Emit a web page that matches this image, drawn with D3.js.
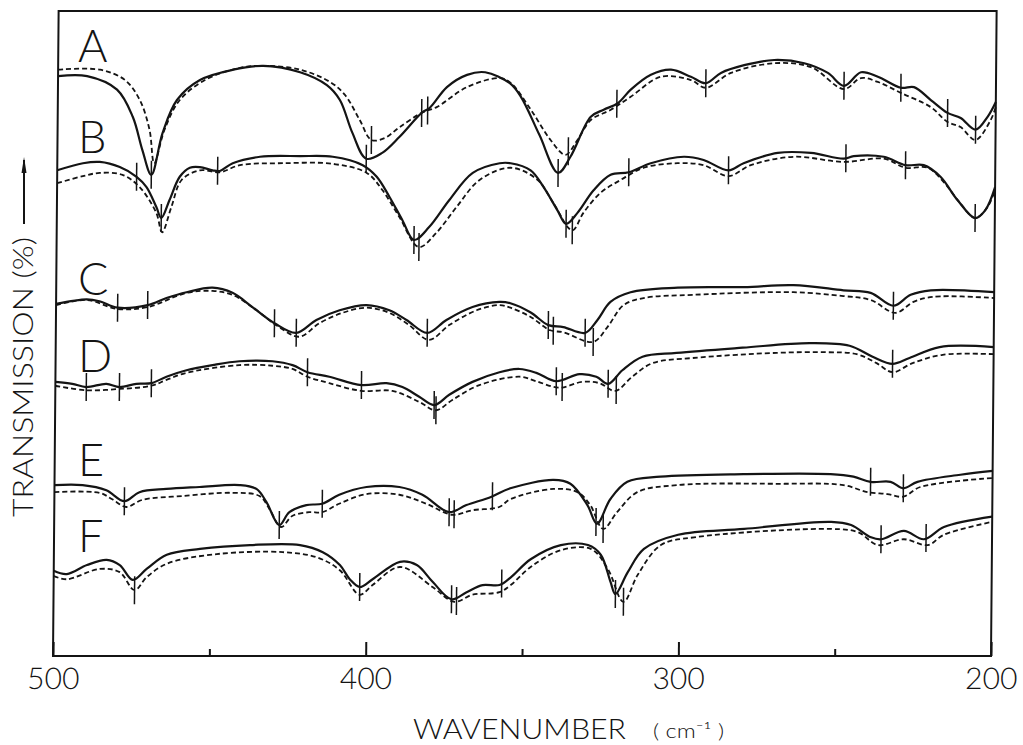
<!DOCTYPE html>
<html>
<head>
<meta charset="utf-8">
<script src="https://cdn.jsdelivr.net/npm/d3@7"></script>
<style>
  body { margin: 0; background: #fff; }
  svg { display: block; }
</style>
</head>
<body>
<div id="chart"></div>
<script>
// wavenumber (cm-1) and transmission (arbitrary %, stacked)
const wavenumberTicks = [500, 400, 300, 200];
const minorTicks = [450, 350, 250];
const spectrumNames = ["A", "B", "C", "D", "E", "F"];
const labelLevels = [92.1, 78.0, 56.0, 44.0, 27.9, 16.1];

const aSolid = [[500,89.9],[490.7,89.9],[481.1,87.8],[476.0,83.6],[472.8,78.4],[469.9,74.6],[466.4,81.1],[461.9,86.2],[454.6,89.3],[444.0,90.9],[434.4,91.5],[422.6,90.5],[414.0,88.5],[409.8,86.2],[405.7,81.1],[401.2,77.1],[396.1,78.0],[390.6,80.5],[383.6,84.2],[381.0,85.0],[375.6,88.2],[369.2,90.1],[363.4,90.5],[355.5,88.8],[351.9,86.7],[345.9,80.8],[339.8,74.9],[335.9,77.4],[329.5,83.6],[325.4,84.7],[320.9,85.7],[316.8,87.8],[310.4,90.1],[304.0,90.9],[297.6,89.8],[292.8,88.8],[288.0,90.4],[280.6,91.6],[271.0,92.4],[261.4,91.9],[253.8,90.4],[248.6,88.4],[243.2,90.5],[237.8,89.8],[230.4,88.1],[226.2,88.2],[220.8,86.2],[215.4,84.2],[211.2,83.4],[206.4,81.6],[202.6,83.6],[200,85.9]];
const aDashed = [[500,90.9],[486.6,90.9],[478.6,89.3],[473.8,86.2],[470.6,81.6],[469.0,76.4],[465.8,81.6],[461.0,86.2],[453.0,89.3],[441.8,91.2],[434.4,91.5],[422.6,90.9],[413.0,89.0],[408.2,87.0],[403.4,83.1],[399.6,80.0],[395.4,80.3],[390.6,82.0],[383.3,84.3],[378.8,85.1],[369.2,88.2],[358.6,89.6],[355.1,88.8],[348.7,84.7],[342.3,80.0],[337.5,77.7],[333.7,80.0],[329.5,83.1],[323.1,84.7],[316.8,86.7],[307.2,89.8],[297.6,89.3],[292.8,88.1],[284.8,90.4],[271.0,91.9],[259.2,91.3],[248.6,87.9],[243.2,89.6],[237.8,89.0],[230.4,87.3],[220.8,85.1],[215.4,82.8],[211.2,82.0],[206.4,80.0],[201.6,83.1],[200,85.1]];
const aTicks = [[469.9,"s"],[401.2,"s"],[399.6,"d"],[383.6,"s"],[381.7,"d"],[339.8,"s"],[336.6,"d"],[321.2,"s"],[292.8,"s"],[248.6,"s"],[230.4,"s"],[215.4,"s"],[206.4,"s"]];

const bSolid = [[500,75.3],[491.8,76.4],[486.4,76.6],[480.0,75.8],[474.6,74.3],[471.4,72.7],[468.2,69.6],[466.6,67.9],[464.0,70.7],[460.8,74.3],[457.6,75.7],[454.4,75.8],[450.3,75.3],[448.0,75.2],[443.9,76.4],[435.2,77.4],[422.4,77.5],[411.9,77.4],[402.3,76.1],[397.8,74.3],[393.7,71.2],[389.5,67.6],[385.7,64.5],[380.9,66.5],[374.5,70.7],[367.1,74.9],[358.5,76.4],[355.0,76.4],[348.6,75.3],[344.4,72.7],[339.9,69.1],[337.1,67.0],[333.5,68.7],[328.4,72.2],[323.0,74.6],[317.2,75.0],[310.2,76.4],[299.6,77.4],[293.3,76.9],[285.3,75.3],[280.5,76.4],[269.6,78.0],[259.0,78.0],[248.5,77.1],[245.3,77.5],[235.7,77.4],[228.7,76.1],[222.9,76.1],[217.5,74.3],[212.0,70.7],[206.3,67.9],[203.1,69.1],[200,72.7]];
const bDashed = [[500,73.3],[491.8,74.4],[486.4,74.9],[479.1,74.6],[473.6,72.7],[468.2,68.7],[466.3,65.7],[463.4,69.6],[460.2,73.8],[454.4,75.3],[448.0,75.0],[441.6,76.1],[427.9,76.4],[411.9,76.3],[401.0,74.9],[395.9,72.2],[390.5,68.1],[384.1,63.4],[378.6,65.6],[372.2,69.6],[364.9,73.8],[355.0,75.7],[346.3,73.8],[341.2,70.2],[335.1,66.0],[331.6,68.7],[326.2,71.8],[319.8,73.8],[312.4,75.7],[301.6,76.4],[293.3,76.1],[285.3,74.4],[278.2,76.1],[264.5,77.4],[248.5,76.6],[235.7,77.1],[228.7,75.7],[221.6,75.7],[216.5,73.5],[211.1,70.2],[206.3,67.9],[202.4,69.6],[200,72.2]];
const bTicks = [[474.6,"s"],[466.6,"s"],[448.7,"s"],[385.7,"s"],[384.1,"d"],[337.1,"s"],[335.1,"d"],[317.2,"s"],[285.3,"s"],[247.8,"s"],[228.7,"s"],[206.3,"s"]];

const cSolid = [[500,54.6],[490.2,55.3],[486.1,55.0],[480.3,54.0],[470.7,54.4],[464.7,55.5],[458.3,56.4],[450.0,57.1],[443.6,56.3],[437.2,54.1],[430.1,51.6],[423.1,50.1],[416.7,52.1],[409.3,53.6],[400.7,54.4],[393.4,53.6],[387.9,52.1],[381.2,50.1],[375.1,52.1],[366.8,54.1],[358.2,54.9],[354.7,54.7],[348.3,53.3],[342.5,51.3],[337.7,51.0],[330.7,50.1],[326.8,52.1],[322.7,54.9],[316.3,56.4],[301.2,57.1],[280.1,57.2],[264.2,57.5],[248.2,56.7],[239.5,56.3],[232.2,54.3],[226.7,56.0],[220.3,56.7],[200,56.4]];
const cDashed = [[500,54.4],[490.2,55.2],[480.3,53.8],[470.7,54.1],[458.3,56.3],[450.0,56.6],[443.6,56.0],[435.9,53.6],[429.5,51.3],[422.1,49.5],[415.7,51.6],[408.4,53.2],[400.7,54.0],[393.4,53.2],[387.0,51.3],[380.6,49.0],[374.2,51.3],[365.5,53.6],[358.2,54.4],[354.7,54.0],[348.3,52.6],[341.9,50.5],[337.7,50.2],[328.1,48.7],[323.6,51.0],[318.5,54.4],[312.1,55.5],[296.1,56.0],[264.2,56.4],[248.2,55.8],[239.5,55.2],[231.5,53.2],[225.8,54.9],[219.4,55.7],[200,55.5]];
const cTicks = [[480.3,"s"],[470.7,"s"],[430.1,"s"],[423.1,"s"],[381.2,"s"],[342.5,"s"],[340.9,"d"],[330.7,"s"],[328.1,"d"],[232.2,"s"]];

const dSolid = [[500,42.5],[494.6,42.2],[490.1,41.7],[483.7,42.2],[479.5,41.7],[474.1,42.2],[469.3,42.3],[464.5,43.3],[458.1,44.3],[449.8,45.1],[441.2,45.7],[430.6,45.7],[424.2,45.1],[419.4,44.0],[412.4,43.3],[402.1,42.0],[394.1,42.3],[389.0,41.7],[383.6,40.2],[378.8,38.9],[374.0,40.5],[366.6,42.5],[358.0,44.0],[351.6,44.5],[346.2,43.9],[339.8,42.6],[332.4,43.7],[327.0,43.3],[323.2,42.2],[318.7,44.3],[312.3,46.4],[301.4,47.0],[280.3,47.8],[258.9,48.5],[246.1,48.1],[238.7,46.4],[232.3,45.3],[226.9,46.2],[217.3,47.9],[200,47.9]];
const dDashed = [[500,41.9],[490.1,41.2],[479.5,41.4],[469.3,41.9],[464.5,42.8],[458.1,43.9],[441.2,45.1],[430.6,45.0],[424.2,44.5],[419.4,43.3],[412.4,42.3],[402.1,41.1],[392.2,41.1],[383.6,39.4],[378.2,38.1],[373.0,39.7],[364.4,42.0],[351.6,43.3],[346.2,42.6],[338.8,41.6],[331.5,42.5],[326.0,42.3],[320.9,41.1],[315.5,43.3],[309.1,45.4],[296.3,46.2],[269.4,47.0],[253.4,47.1],[243.8,46.8],[237.4,45.4],[232.3,44.0],[225.9,45.4],[216.3,46.7],[200,46.8]];
const dTicks = [[490.1,"s"],[479.5,"s"],[469.3,"s"],[419.4,"s"],[402.1,"s"],[378.8,"s"],[378.2,"d"],[339.8,"s"],[337.9,"d"],[323.2,"s"],[320.6,"d"],[232.3,"s"]];

const eSolid = [[500,26.5],[491.0,26.5],[483.4,25.7],[477.6,24.0],[472.8,25.4],[464.2,25.9],[453.6,26.2],[440.8,26.5],[435.4,25.9],[432.2,23.9],[428.0,20.3],[424.8,22.3],[419.4,23.4],[414.3,23.6],[408.9,25.0],[400.2,26.2],[389.7,26.2],[382.3,25.0],[373.7,22.3],[368.2,23.4],[360.2,24.7],[354.2,26.0],[340.4,27.3],[335.0,26.7],[329.5,23.4],[326.4,20.5],[322.2,24.3],[316.8,27.0],[306.2,27.8],[279.7,28.2],[251.8,28.2],[244.5,27.8],[239.0,27.0],[232.6,27.0],[228.5,26.0],[224.0,27.0],[210.3,28.1],[200,28.7]];
const eDashed = [[500,25.4],[485.6,25.3],[481.5,24.3],[477.0,23.1],[471.9,24.2],[459.1,24.8],[443.1,25.3],[434.4,24.8],[431.2,22.8],[427.4,20.0],[423.9,21.7],[418.5,22.3],[414.3,22.3],[408.9,23.6],[400.2,25.1],[389.7,25.0],[381.0,23.6],[372.7,21.9],[366.3,22.6],[357.7,23.1],[354.2,24.3],[340.4,25.9],[332.7,25.4],[328.6,23.4],[324.4,19.7],[320.0,22.3],[313.6,25.4],[300.8,26.5],[268.8,26.7],[247.7,26.5],[240.0,25.4],[233.6,25.1],[228.5,24.7],[223.1,26.2],[200,27.6]];
const eTicks = [[477.6,"s"],[428.0,"s"],[414.3,"s"],[373.7,"s"],[372.1,"d"],[359.9,"s"],[326.7,"s"],[324.4,"d"],[239.0,"s"],[228.5,"s"]];

const fSolid = [[500,13.2],[495.8,12.7],[489.4,14.1],[483.1,14.9],[478.9,14.1],[474.7,11.8],[470.3,13.5],[463.9,15.7],[453.3,16.6],[437.3,17.2],[421.3,17.2],[414.0,16.1],[408.5,14.1],[405.3,11.9],[402.1,10.7],[398.0,11.9],[389.3,14.6],[383.9,14.1],[378.8,11.5],[372.7,8.8],[367.9,9.9],[362.8,11.0],[357.4,11.0],[353.8,12.2],[347.5,15.0],[337.9,17.2],[329.2,17.2],[325.1,15.7],[321.9,11.5],[320.3,9.6],[316.4,13.0],[311.3,16.6],[300.4,18.8],[279.3,19.7],[251.5,20.8],[245.1,20.3],[238.7,18.4],[235.5,18.1],[228.2,19.4],[221.8,18.1],[215.4,20.0],[200,21.6]];
const fDashed = [[500,12.4],[495.8,11.9],[485.3,13.5],[478.9,13.0],[474.1,10.2],[470.3,12.2],[463.9,14.3],[447.9,15.8],[426.8,16.1],[415.9,15.3],[408.5,13.3],[402.1,9.5],[398.0,11.0],[389.3,13.8],[378.8,10.7],[371.8,8.4],[366.0,9.5],[357.4,9.9],[353.8,11.0],[347.5,13.8],[337.9,16.4],[328.3,16.6],[322.8,13.5],[317.7,8.4],[313.2,12.6],[305.9,17.2],[295.3,18.4],[251.5,19.7],[242.9,19.2],[236.5,17.2],[228.2,18.1],[220.5,17.2],[215.4,18.8],[200,20.8]];
const fTicks = [[474.1,"d"],[402.1,"s"],[372.7,"s"],[371.1,"d"],[356.7,"s"],[320.3,"s"],[317.7,"d"],[235.5,"s"],[221.1,"s"]];

const spectra = [
  { solid: aSolid, dashed: aDashed, ticks: aTicks },
  { solid: bSolid, dashed: bDashed, ticks: bTicks },
  { solid: cSolid, dashed: cDashed, ticks: cTicks },
  { solid: dSolid, dashed: dDashed, ticks: dTicks },
  { solid: eSolid, dashed: eDashed, ticks: eTicks },
  { solid: fSolid, dashed: fDashed, ticks: fTicks }
];

const width = 1023, height = 745;
const ink = "#141414";
const font = "Lato, Roboto, 'DejaVu Sans', sans-serif";

const svg = d3.select("#chart").append("svg")
  .attr("width", width)
  .attr("height", height);

const x = d3.scaleLinear().domain([500, 200]).range([53, 991]);
const y = d3.scaleLinear().domain([0, 100]).range([656, 11]);

// the scan is a little skewed, top leaning right
const plot = svg.append("g")
  .attr("transform", `translate(0,${y(0)}) skewX(-0.5) translate(0,${-y(0)})`);

plot.append("rect")
  .attr("x", x(500))
  .attr("y", y(100))
  .attr("width", x(200) - x(500))
  .attr("height", y(0) - y(100))
  .attr("fill", "none")
  .attr("stroke", ink)
  .attr("stroke-width", 2);

const majorAxis = plot.append("g")
  .attr("transform", `translate(0,${y(0)})`)
  .call(d3.axisBottom(x).tickValues(wavenumberTicks).tickSize(-14).tickSizeOuter(0).tickPadding(12).tickFormat(d3.format("d")));

const minorAxis = plot.append("g")
  .attr("transform", `translate(0,${y(0)})`)
  .call(d3.axisBottom(x).tickValues(minorTicks).tickSize(-7).tickSizeOuter(0).tickFormat(""));

[majorAxis, minorAxis].forEach(function(a) {
  a.select(".domain").remove();
  a.selectAll(".tick line").attr("stroke", ink).attr("stroke-width", 2);
});

majorAxis.selectAll(".tick text")
  .attr("fill", ink)
  .style("font-family", font)
  .style("font-weight", 300)
  .style("font-size", "30px");

const line = d3.line()
  .x(function(d) { return x(d[0]); })
  .y(function(d) { return y(d[1]); })
  .curve(d3.curveCatmullRom.alpha(0.5));

function valueAt(series, w) {
  for (let i = 0; i < series.length - 1; i++) {
    const a = series[i], b = series[i + 1];
    if (w <= a[0] && w >= b[0]) {
      return a[1] + (b[1] - a[1]) * (a[0] - w) / (a[0] - b[0]);
    }
  }
  return series[series.length - 1][1];
}

spectra.forEach(function(s) {
  const g = plot.append("g");

  g.append("path")
    .datum(s.dashed)
    .attr("d", line)
    .attr("fill", "none")
    .attr("stroke", ink)
    .attr("stroke-width", 1.8)
    .attr("stroke-dasharray", "5 3");

  g.append("path")
    .datum(s.solid)
    .attr("d", line)
    .attr("fill", "none")
    .attr("stroke", ink)
    .attr("stroke-width", 2.2);

  g.selectAll(".peak")
    .data(s.ticks).enter()
    .append("line")
      .attr("class", "peak")
      .attr("x1", function(d) { return x(d[0]); })
      .attr("x2", function(d) { return x(d[0]); })
      .attr("y1", function(d) { return y(valueAt(d[1] === "s" ? s.solid : s.dashed, d[0])) - 14; })
      .attr("y2", function(d) { return y(valueAt(d[1] === "s" ? s.solid : s.dashed, d[0])) + 14; })
      .attr("stroke", ink)
      .attr("stroke-width", 1.5);
});

svg.selectAll(".name")
  .data(spectrumNames).enter()
  .append("text")
    .attr("class", "name")
    .attr("x", 78)
    .attr("y", function(d, i) { return y(labelLevels[i]); })
    .attr("fill", ink)
    .style("font-family", font)
    .style("font-weight", 300)
    .style("font-size", "45px")
    .text(function(d) { return d; });

svg.append("text")
  .attr("transform", "translate(33,377) rotate(-90)")
  .attr("text-anchor", "middle")
  .attr("textLength", 280)
  .attr("lengthAdjust", "spacingAndGlyphs")
  .attr("fill", ink)
  .style("font-family", font)
  .style("font-weight", 300)
  .style("font-size", "28px")
  .text("TRANSMISSION (%)");

svg.append("line")
  .attr("x1", 24).attr("x2", 24)
  .attr("y1", 224).attr("y2", 160)
  .attr("stroke", ink)
  .attr("stroke-width", 2);

svg.append("path")
  .attr("d", "M24,157 L21.5,173 L26.5,173 Z")
  .attr("fill", ink);

svg.append("text")
  .attr("x", 413)
  .attr("y", 739)
  .attr("textLength", 213)
  .attr("lengthAdjust", "spacingAndGlyphs")
  .attr("fill", ink)
  .style("font-family", font)
  .style("font-weight", 300)
  .style("font-size", "28px")
  .text("WAVENUMBER");

svg.append("text")
  .attr("x", 653)
  .attr("y", 738)
  .attr("textLength", 71)
  .attr("lengthAdjust", "spacingAndGlyphs")
  .attr("fill", ink)
  .style("font-family", font)
  .style("font-weight", 300)
  .style("font-size", "20px")
  .text("( cm⁻¹ )");
</script>
</body>
</html>
